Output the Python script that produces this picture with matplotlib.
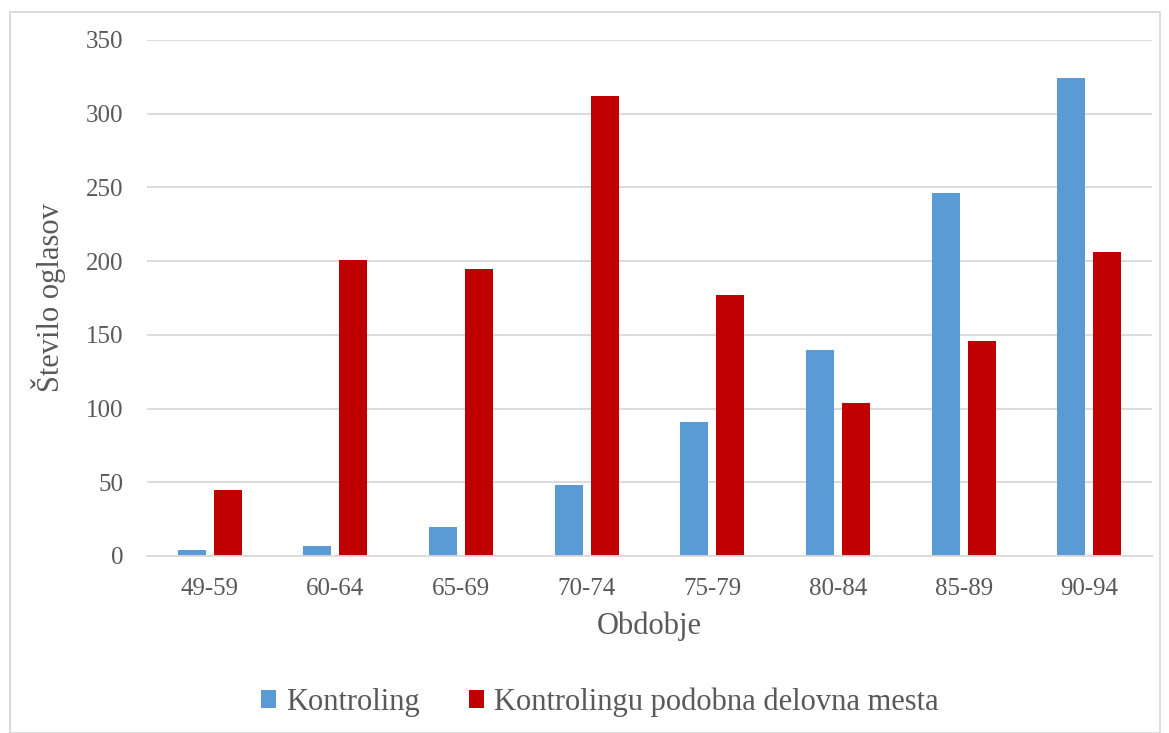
import numpy as np
import matplotlib.pyplot as plt
from matplotlib.patches import Rectangle

plt.rcParams['font.family'] = ['Liberation Serif', 'DejaVu Serif']

obdobja = ['49-59', '60-64', '65-69', '70-74', '75-79', '80-84', '85-89', '90-94']
kontroling = [4, 7, 20, 48, 91, 140, 246, 324]
podobna = [45, 201, 195, 312, 177, 104, 146, 206]
legenda = ['Kontroling', 'Kontrolingu podobna delovna mesta']

txt = '#595959'
grid = '#D9D9D9'

fig = plt.figure(figsize=(11.69, 7.33), dpi=100)
ax = fig.add_axes([147/1169, 1 - 556/733, (1152 - 147)/1169, (556 - 40)/733])

x = np.arange(len(obdobja))
w = 0.223
off = 0.143
ax.bar(x - off, kontroling, w, color='#5B9BD5', label=legenda[0], zorder=3)
ax.bar(x + off, podobna, w, color='#C00000', label=legenda[1], zorder=3)

ax.set_xlim(-0.5, len(obdobja) - 0.5)
ax.set_ylim(0, 350)
ax.set_yticks(range(0, 351, 50))
ax.set_xticks(x)
ax.set_xticklabels(obdobja)
ax.yaxis.grid(True, color=grid, lw=1.3, zorder=0)
ax.tick_params(length=0, labelsize=18, colors=txt)
ax.tick_params(axis='x', pad=16)
ax.tick_params(axis='y', pad=17)
for s in ['top', 'right', 'left']:
    ax.spines[s].set_visible(False)
ax.spines['bottom'].set_color(grid)
ax.spines['bottom'].set_linewidth(1.3)
ax.spines['bottom'].set_zorder(4)

ax.set_xlabel('Obdobje', fontsize=22, color=txt, labelpad=8)
ax.set_ylabel('Število oglasov', fontsize=22, color=txt, labelpad=14)

leg = fig.legend(loc='center', bbox_to_anchor=(0.513, 1 - 702/733), ncol=2, frameon=False,
                 fontsize=22, handlelength=0.5, handleheight=0.5, handletextpad=0.32,
                 columnspacing=1.6)
for t in leg.get_texts():
    t.set_color(txt)

fig.patches.append(Rectangle((10/1169, 0), 1150/1169, 1 - 12/733, transform=fig.transFigure,
                             fill=False, edgecolor=grid, lw=1.3))

fig.savefig('out.png', dpi=100)
